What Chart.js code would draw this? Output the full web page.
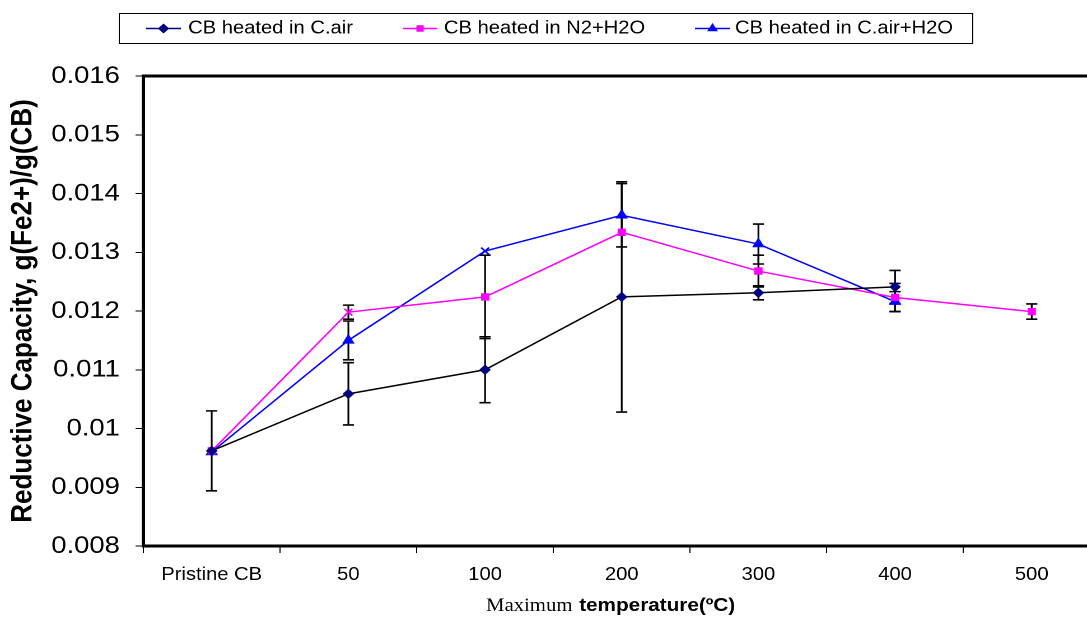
<!DOCTYPE html>
<html><head><meta charset="utf-8">
<script src="https://cdn.jsdelivr.net/npm/chart.js@4/dist/chart.umd.min.js"></script>
<style>
html,body{margin:0;padding:0;overflow:hidden;background:#fff;width:1087px;height:618px}
#wrap{position:absolute;left:0;top:0;width:990px;height:618px;transform:scaleX(1.12);transform-origin:0 0}
canvas{display:block}
</style></head><body>
<div id="wrap"><canvas id="c" width="990" height="618"></canvas></div>
<script>
const categories = ['Pristine CB', '50', '100', '200', '300', '400', '500'];
const cAir    = [0.00962, 0.01059, 0.01100, 0.01224, 0.01231, 0.01241, null];
const cAirErr = [0.00068, 0.00053, 0.00056, 0.00196, 0.00012, 0.00028, null];
const n2      = [0.00962, 0.01198, 0.01224, 0.01334, 0.01268, 0.01223, 0.01199];
const n2Err   = [0, 0.00012, 0.00071, 0, 0.00027, 0.00024, 0.00013];
const cAirH2O    = [0.00960, 0.01150, 0.01302, 0.01363, 0.01314, 0.01216, null];
const cAirH2OErr = [0, 0.00033, 0, 0.00054, 0.00034, 0.00017, null];
const yTickMin = 0.008, yTickMax = 0.016, yTickStep = 0.001;
const seriesNames = ['CB heated in C.air', 'CB heated in N2+H2O', 'CB heated in C.air+H2O'];
const errorSets = [cAirErr, n2Err, cAirH2OErr];

const SANS = "'Liberation Sans', Arial, sans-serif";
const SERIF = "'Liberation Serif', 'Times New Roman', serif";

const errorBars = {
  id: 'errorBars',
  beforeDatasetsDraw(chart) {
    const ctx = chart.ctx, yS = chart.scales.y;
    ctx.save();
    ctx.strokeStyle = '#000';
    ctx.lineWidth = 1.6;
    chart.data.datasets.forEach((ds, i) => {
      const meta = chart.getDatasetMeta(i);
      meta.data.forEach((pt, j) => {
        const v = ds.data[j], e = errorSets[i][j];
        if (v == null || !e) return;
        const x = pt.x;
        const yt = yS.getPixelForValue(v + e), yb = yS.getPixelForValue(v - e);
        ctx.beginPath();
        ctx.moveTo(x, yt); ctx.lineTo(x, yb);
        ctx.moveTo(x - 5, yt); ctx.lineTo(x + 5, yt);
        ctx.moveTo(x - 5, yb); ctx.lineTo(x + 5, yb);
        ctx.stroke();
      });
    });
    ctx.restore();
  }
};

const frame = {
  id: 'frame',
  afterDatasetsDraw(chart) {
    const {ctx, chartArea: a} = chart;
    ctx.save();
    ctx.strokeStyle = '#000';
    ctx.lineWidth = 3;
    ctx.strokeRect(a.left, a.top, a.right - a.left, a.bottom - a.top);
    ctx.restore();
  }
};

const customLegend = {
  id: 'customLegend',
  afterDraw(chart) {
    const ctx = chart.ctx;
    ctx.save();
    ctx.strokeStyle = '#000';
    ctx.lineWidth = 1;
    ctx.strokeRect(106.5, 13.5, 762, 30);
    const entries = [[130.4, 161.6, 168], [359.8, 390.2, 396.4], [620.5, 651.8, 656.3]];
    const yMid = 28.5;
    chart.data.datasets.forEach((ds, i) => {
      const [x0, x1, tx] = entries[i];
      ctx.strokeStyle = i === 0 ? '#000080' : ds.borderColor;
      ctx.lineWidth = 1.5;
      ctx.beginPath(); ctx.moveTo(x0, yMid); ctx.lineTo(x1, yMid); ctx.stroke();
      ctx.fillStyle = ds.backgroundColor;
      ctx.strokeStyle = ds.pointBorderColor;
      const st = i === 0 ? 'rectRot' : (i === 1 ? 'rect' : 'triangle');
      Chart.helpers.drawPoint(ctx, {pointStyle: st, radius: i === 1 ? 3.5 : 4, borderWidth: 1, rotation: 0}, (x0 + x1) / 2, yMid);
      ctx.fillStyle = '#000';
      ctx.font = '18px ' + SANS;
      ctx.textBaseline = 'middle';
      ctx.textAlign = 'left';
      ctx.fillText(seriesNames[i], tx, yMid);
    });
    ctx.restore();
  }
};

const xTitle = {
  id: 'xTitle',
  afterDraw(chart) {
    const ctx = chart.ctx;
    ctx.save();
    ctx.fillStyle = '#000';
    ctx.textBaseline = 'alphabetic';
    ctx.textAlign = 'left';
    let x = 434, y = 611;
    ctx.font = '18.5px ' + SERIF;
    ctx.fillText('Maximum', x, y);
    x += ctx.measureText('Maximum').width + 6;
    ctx.font = 'bold 18.5px ' + SANS;
    ctx.fillText('temperature(ºC)', x, y);
    ctx.restore();
  }
};

new Chart(document.getElementById('c'), {
  type: 'line',
  data: {
    labels: categories,
    datasets: [
      {label: seriesNames[0], data: cAir, borderColor: '#000000', backgroundColor: '#000080',
       pointBorderColor: '#000080', pointBackgroundColor: '#000080', pointStyle: 'rectRot',
       pointRadius: 4.5, pointBorderWidth: 1, borderWidth: 1.5},
      {label: seriesNames[1], data: n2, borderColor: '#FF00FF', backgroundColor: '#FF00FF',
       pointBorderColor: '#FF00FF', pointBackgroundColor: '#FF00FF',
       pointStyle: ['rect', 'crossRot', 'rect', 'rect', 'rect', 'rect', 'rect'],
       pointRadius: [4.5, 5, 4.5, 4.5, 4.5, 4.5, 4.5], pointBorderWidth: [1, 1.6, 1, 1, 1, 1, 1], borderWidth: 1.5},
      {label: seriesNames[2], data: cAirH2O, borderColor: '#0000FF', backgroundColor: '#0000FF',
       pointBorderColor: '#0000FF', pointBackgroundColor: '#0000FF',
       pointStyle: ['triangle', 'triangle', 'crossRot', 'triangle', 'triangle', 'triangle', 'triangle'],
       pointRadius: [5.5, 5.5, 5, 5.5, 5.5, 5.5, 5.5], pointBorderWidth: [1, 1, 1.6, 1, 1, 1, 1], borderWidth: 1.5}
    ]
  },
  options: {
    responsive: false,
    devicePixelRatio: 2,
    animation: false,
    layout: {padding: {top: 76, left: 0, right: 7.8, bottom: 0}},
    plugins: {legend: {display: false}, tooltip: {enabled: false}},
    scales: {
      x: {
        offset: true,
        grid: {offset: true, drawOnChartArea: false, drawTicks: true, tickLength: 7, color: '#000', lineWidth: 1},
        border: {display: false},
        ticks: {font: {family: SANS, size: 18}, color: '#000', padding: 11, maxRotation: 0, autoSkip: false},
        afterFit(s) { s.height = 72; }
      },
      y: {
        min: yTickMin, max: yTickMax,
        grid: {drawOnChartArea: false, drawTicks: true, tickLength: 7, color: '#000', lineWidth: 1},
        border: {display: false},
        ticks: {stepSize: yTickStep, font: {family: SANS, size: 24.5}, color: '#000', padding: 14,
                callback: v => String(+Number(v).toFixed(3))},
        title: {display: true, text: 'Reductive Capacity, g(Fe2+)/g(CB)', color: '#000',
                font: {family: SANS, size: 26, weight: 'bold'}, padding: {top: 5, bottom: 0}},
        afterFit(s) { s.width = 128; }
      }
    }
  },
  plugins: [errorBars, frame, customLegend, xTitle]
});
</script>
</body></html>
